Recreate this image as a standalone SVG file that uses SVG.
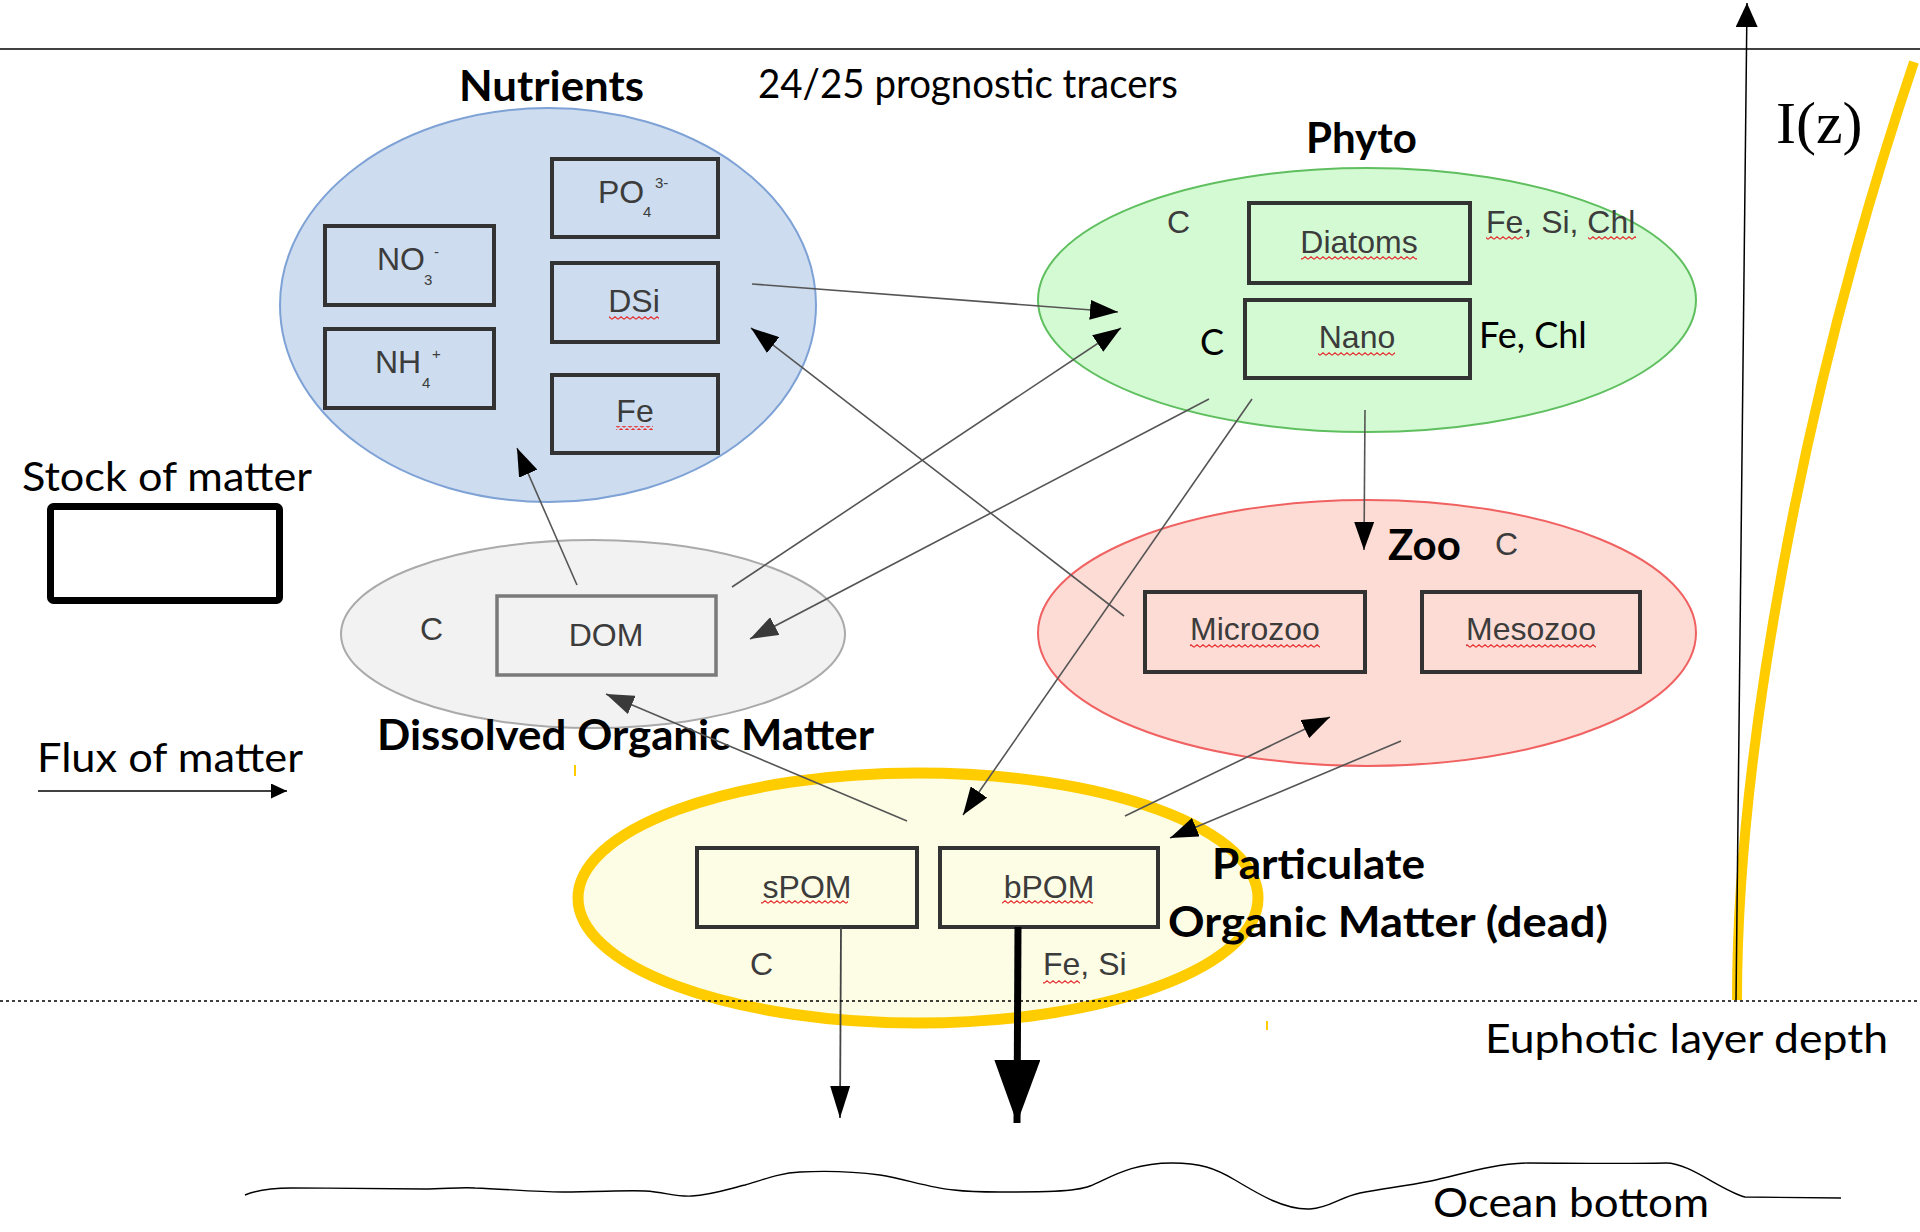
<svg xmlns="http://www.w3.org/2000/svg" width="1920" height="1232" viewBox="0 0 1920 1232">
  <style>
    .box { fill: none; stroke: #333; stroke-width: 4; }
    .boxlbl { font-family: "Liberation Sans", Arial, sans-serif; font-size: 32px; fill: #3c3c3c; text-anchor: middle; }
    .lbl { font-family: "Liberation Sans", Arial, sans-serif; font-size: 32px; fill: #3c3c3c; }
    .small { font-family: "Liberation Sans", Arial, sans-serif; font-size: 15px; fill: #3c3c3c; }
    .title { font-family: Lato, "Liberation Sans", sans-serif; font-weight: bold; font-size: 42px; fill: #000; }
    .plain { font-family: Lato, "Liberation Sans", sans-serif; font-size: 40px; fill: #000; }
    .flux { fill: none; stroke: #555; stroke-width: 1.6; }
    .spell { fill: url(#spell); }
  </style>
  <defs>
    <pattern id="spell" width="6" height="4" patternUnits="userSpaceOnUse">
      <path d="M0,3.2 L3,0.8 L6,3.2" fill="none" stroke="#e53030" stroke-width="1.2"/>
    </pattern>
    <marker id="ah" viewBox="0 0 28 20" refX="28" refY="10" markerWidth="28" markerHeight="20" markerUnits="userSpaceOnUse" orient="auto">
      <path d="M0,0 L28,10 L0,20 z" fill="#000"/>
    </marker>
    <marker id="ahg" viewBox="0 0 28 20" refX="28" refY="10" markerWidth="28" markerHeight="20" markerUnits="userSpaceOnUse" orient="auto">
      <path d="M0,0 L28,10 L0,20 z" fill="#3a3a3a"/>
    </marker>
    <marker id="ahs" viewBox="0 0 32 20" refX="32" refY="10" markerWidth="32" markerHeight="20" markerUnits="userSpaceOnUse" orient="auto">
      <path d="M0,0 L32,10 L0,20 z" fill="#000"/>
    </marker>
    <marker id="ahb" viewBox="0 0 63 46" refX="63" refY="23" markerWidth="63" markerHeight="46" markerUnits="userSpaceOnUse" orient="auto">
      <path d="M0,0 L63,23 L0,46 z" fill="#000"/>
    </marker>
    <marker id="ahaxis" viewBox="0 0 24 22" refX="24" refY="11" markerWidth="24" markerHeight="22" markerUnits="userSpaceOnUse" orient="auto">
      <path d="M0,0 L24,11 L0,22 z" fill="#000"/>
    </marker>
    <marker id="ahleg" viewBox="0 0 16 15" refX="16" refY="7.5" markerWidth="16" markerHeight="15" markerUnits="userSpaceOnUse" orient="auto">
      <path d="M0,0 L16,7.5 L0,15 z" fill="#000"/>
    </marker>
  </defs>

  <rect width="1920" height="1232" fill="#fff"/>

  <!-- sea surface -->
  <line x1="0" y1="49" x2="1920" y2="49" stroke="#000" stroke-width="1.6"/>

  <!-- light profile -->
  <g id="light">
    <path d="M1737,1000 C1737,760 1800,400 1914,62" fill="none" stroke="#ffcc00" stroke-width="10"/>
    <line x1="1736" y1="1000" x2="1747" y2="3" stroke="#000" stroke-width="1.5" marker-end="url(#ahaxis)"/>
    <text x="1776" y="143" font-family="Liberation Serif, 'Times New Roman', serif" font-size="60">I(z)</text>
  </g>

  <text class="plain" x="758" y="98" font-size="38" textLength="420" lengthAdjust="spacingAndGlyphs">24/25 prognostic tracers</text>

  <!-- Nutrients -->
  <g id="nutrients">
    <ellipse cx="548" cy="305" rx="268" ry="197" fill="#cddcee" stroke="#7ea2d6" stroke-width="2"/>
    <text class="title" x="459" y="101" textLength="185" lengthAdjust="spacingAndGlyphs">Nutrients</text>
    <rect class="box" x="552" y="159" width="166" height="78"/>
    <text class="lbl" x="598" y="203">PO<tspan class="small" x="643" y="217">4</tspan><tspan class="small" x="655" y="188">3-</tspan></text>
    <rect class="box" x="325" y="226" width="169" height="79"/>
    <text class="lbl" x="377" y="270">NO<tspan class="small" x="424" y="285">3</tspan><tspan class="small" x="434" y="257">-</tspan></text>
    <rect class="box" x="552" y="263" width="166" height="79"/>
    <text class="boxlbl" x="634" y="312">DSi</text>
    <rect class="spell" x="609" y="316" width="50" height="4"/>
    <rect class="box" x="325" y="329" width="169" height="79"/>
    <text class="lbl" x="375" y="373">NH<tspan class="small" x="422" y="388">4</tspan><tspan class="small" x="432" y="359">+</tspan></text>
    <rect class="box" x="552" y="375" width="166" height="78"/>
    <text class="boxlbl" x="635" y="422">Fe</text>
    <rect class="spell" x="616" y="426" width="37" height="4"/>
  </g>

  <!-- Phytoplankton -->
  <g id="phyto">
    <ellipse cx="1367" cy="300" rx="329" ry="132" fill="#d4fad4" stroke="#5fbf5f" stroke-width="2"/>
    <text class="title" x="1306" y="153" font-size="40">Phyto</text>
    <rect class="box" x="1249" y="203" width="221" height="80"/>
    <text class="boxlbl" x="1359" y="253">Diatoms</text>
    <rect class="spell" x="1301" y="256" width="116" height="4"/>
    <rect class="box" x="1245" y="300" width="225" height="78"/>
    <text class="boxlbl" x="1357" y="348">Nano</text>
    <rect class="spell" x="1318" y="352" width="77" height="4"/>
    <text class="lbl" x="1167" y="233">C</text>
    <text class="lbl" x="1486" y="233">Fe, Si, Chl</text>
    <rect class="spell" x="1486" y="236" width="37" height="4"/>
    <rect class="spell" x="1588" y="236" width="48" height="4"/>
    <text x="1200" y="355" font-family="Lato, 'Liberation Sans', sans-serif" font-size="36">C</text>
    <text x="1479" y="348" font-family="Lato, 'Liberation Sans', sans-serif" font-size="36">Fe, Chl</text>
  </g>

  <!-- Zooplankton -->
  <g id="zoo">
    <ellipse cx="1367" cy="633" rx="329" ry="133" fill="#fddcd5" stroke="#f06262" stroke-width="2"/>
    <text class="title" x="1388" y="560" font-size="40">Zoo</text>
    <text class="lbl" x="1495" y="555" fill="#555">C</text>
    <rect class="box" x="1145" y="592" width="220" height="80"/>
    <text class="boxlbl" x="1255" y="640">Microzoo</text>
    <rect class="spell" x="1190" y="644" width="130" height="4"/>
    <rect class="box" x="1422" y="592" width="218" height="80"/>
    <text class="boxlbl" x="1531" y="640">Mesozoo</text>
    <rect class="spell" x="1466" y="644" width="130" height="4"/>
  </g>

  <!-- Dissolved organic matter -->
  <g id="dom">
    <ellipse cx="593" cy="634" rx="252" ry="94" fill="#f2f2f2" stroke="#aaa" stroke-width="2"/>
    <rect x="497" y="596" width="219" height="79" fill="none" stroke="#7a7a7a" stroke-width="3.5"/>
    <text class="boxlbl" x="606" y="646" fill="#8c8c8c">DOM</text>
    <text class="lbl" x="420" y="640" fill="#555">C</text>
    <text class="title" x="377" y="750" textLength="497" lengthAdjust="spacingAndGlyphs">Dissolved Organic Matter</text>
  </g>

  <!-- Particulate organic matter -->
  <g id="pom">
    <ellipse cx="918" cy="898" rx="340" ry="125" fill="#fdfde6" stroke="#ffcc00" stroke-width="11"/>
    <rect class="box" x="697" y="848" width="220" height="79" stroke="#4a4a40"/>
    <text class="boxlbl" x="807" y="898">sPOM</text>
    <rect class="spell" x="761" y="900" width="87" height="4"/>
    <rect class="box" x="940" y="848" width="218" height="79" stroke="#4a4a40"/>
    <text class="boxlbl" x="1049" y="898">bPOM</text>
    <rect class="spell" x="1002" y="900" width="91" height="4"/>
    <text class="lbl" x="750" y="975">C</text>
    <text class="lbl" x="1043" y="975">Fe, Si</text>
    <rect class="spell" x="1043" y="980" width="37" height="4"/>
    <text class="title" x="1212" y="879" textLength="213" lengthAdjust="spacingAndGlyphs">Particulate</text>
    <text class="title" x="1168" y="937" textLength="440" lengthAdjust="spacingAndGlyphs">Organic Matter (dead)</text>
    <line x1="575" y1="765" x2="575" y2="776" stroke="#ffcc00" stroke-width="2"/>
    <line x1="1267" y1="1021" x2="1267" y2="1030" stroke="#ffcc00" stroke-width="2"/>
  </g>

  <!-- fluxes between compartments -->
  <g id="connectors">
    <line class="flux" x1="752" y1="284" x2="1118" y2="312" marker-end="url(#ah)"/>
    <line class="flux" x1="732" y1="587" x2="1121" y2="328" marker-end="url(#ah)"/>
    <line class="flux" x1="1209" y1="399" x2="750" y2="639" marker-end="url(#ahg)"/>
    <line class="flux" x1="577" y1="585" x2="517" y2="448" marker-end="url(#ah)"/>
    <line class="flux" x1="1124" y1="616" x2="751" y2="328" marker-end="url(#ah)"/>
    <line class="flux" x1="1252" y1="399" x2="963" y2="815" marker-end="url(#ah)"/>
    <line class="flux" x1="907" y1="821" x2="606" y2="694" marker-end="url(#ahg)"/>
    <line class="flux" x1="1125" y1="816" x2="1330" y2="717" marker-end="url(#ah)"/>
    <line class="flux" x1="1401" y1="741" x2="1170" y2="838" marker-end="url(#ah)"/>
    <line class="flux" x1="1365" y1="410" x2="1364" y2="550" marker-end="url(#ah)"/>
    <line x1="841" y1="927" x2="840" y2="1118" stroke="#444" stroke-width="1.8" marker-end="url(#ahs)"/>
    <line x1="1018" y1="927" x2="1017" y2="1123" stroke="#000" stroke-width="7" marker-end="url(#ahb)"/>
  </g>

  <!-- euphotic depth and sea floor -->
  <line x1="0" y1="1001" x2="1920" y2="1001" stroke="#000" stroke-width="1.5" stroke-dasharray="3,3"/>
  <text class="plain" x="1485" y="1053" font-size="42" textLength="403" lengthAdjust="spacingAndGlyphs">Euphotic layer depth</text>
  <path d="M245,1195 C260,1189 275,1188 291,1188 C340,1188 400,1189 424,1189 C445,1189 460,1187 475,1188 C505,1189 535,1192 562,1192 C600,1192 625,1190 645,1191 C665,1192 675,1197 692,1196 C710,1195 725,1190 745,1185 C765,1179 780,1173 800,1172 C820,1171 850,1171 880,1175 C905,1179 930,1188 954,1190 C970,1192 985,1192 1000,1192 C1040,1192 1075,1192 1090,1186 C1110,1178 1130,1163 1172,1163 C1200,1163 1215,1168 1235,1180 C1260,1195 1285,1210 1310,1209 C1330,1208 1340,1197 1360,1193 C1385,1188 1400,1187 1431,1181 C1460,1175 1490,1164 1528,1163 C1560,1163 1620,1164 1666,1163 C1690,1163 1720,1190 1745,1197 L1841,1198" fill="none" stroke="#000" stroke-width="1.4"/>
  <text class="plain" x="1433" y="1217" font-size="40" textLength="276" lengthAdjust="spacingAndGlyphs">Ocean bottom</text>

  <!-- legend -->
  <g id="legend">
    <text class="plain" x="22" y="491" textLength="290" lengthAdjust="spacingAndGlyphs">Stock of matter</text>
    <rect x="50.5" y="506.5" width="229" height="94" rx="3" fill="none" stroke="#000" stroke-width="7"/>
    <text class="plain" x="37" y="772" textLength="266" lengthAdjust="spacingAndGlyphs">Flux of matter</text>
    <line x1="38" y1="791" x2="287" y2="791" stroke="#000" stroke-width="1.5" marker-end="url(#ahleg)"/>
  </g>
</svg>
